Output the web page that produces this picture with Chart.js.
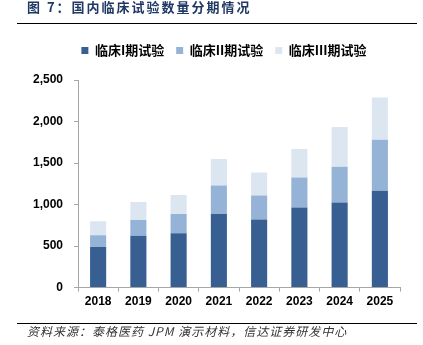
<!DOCTYPE html>
<html><head><meta charset="utf-8">
<script src="https://cdn.jsdelivr.net/npm/chart.js@4"></script>
<style>
html,body{margin:0;padding:0;background:#fff;}
#wrap{position:relative;width:423px;height:345px;overflow:hidden;}
#c{position:absolute;left:0;top:0;}
.title{position:absolute;left:27px;top:-3px;font:bold 13px "Noto Sans CJK SC",sans-serif;color:#1F3864;letter-spacing:2px;white-space:nowrap;}
.rule{position:absolute;left:17px;width:400px;height:1.5px;background:#000;}
.src{position:absolute;left:27px;top:322px;font:italic 12px "Noto Sans CJK SC",sans-serif;color:#333;letter-spacing:1px;white-space:nowrap;}
</style></head>
<body><div id="wrap">
<canvas id="c" width="423" height="345"></canvas>
<div class="title">图 7：国内临床试验数量分期情况</div>
<div class="rule" style="top:22.5px"></div>
<div class="rule" style="top:322.5px"></div>
<div class="src">资料来源：泰格医药 JPM 演示材料，信达证券研发中心</div>
</div>
<script>
const categories = ["2018","2019","2020","2021","2022","2023","2024","2025"];
const phase1 = [490, 625, 655, 885, 820, 965, 1025, 1165];
const phase2 = [140, 190, 230, 345, 290, 360, 430, 615];
const phase3 = [170, 215, 230, 320, 275, 345, 480, 510];
const seriesNames = ["临床I期试验", "临床II期试验", "临床III期试验"];
const yTicks = [0, 500, 1000, 1500, 2000, 2500];

const colors = ["#385F92", "#95B3D7", "#DCE6F1"];
const fontFamily = 'Arial, "Liberation Sans", "Noto Sans CJK SC", sans-serif';

const legendGap = {
  id: 'legendGap',
  afterInit(chart) {
    const lg = chart.legend;
    if (!lg) return;
    const orig = lg.fit;
    lg.fit = function () { orig.call(this); this.height += 13; };
  },
  afterLayout(chart) {
    const lg = chart.legend;
    if (!lg) return;
    lg.left += 24;
    lg.right += 24;
  }
};

new Chart(document.getElementById('c'), {
  type: 'bar',
  data: {
    labels: categories,
    datasets: [phase1, phase2, phase3].map((d, i) => ({
      label: seriesNames[i],
      data: d,
      backgroundColor: colors[i],
      borderWidth: 0,
      barPercentage: 0.4,
      categoryPercentage: 1.0
    }))
  },
  plugins: [legendGap],
  options: {
    responsive: false,
    animation: false,
    devicePixelRatio: 1,
    layout: { padding: { left: 0, right: 23, top: 32, bottom: 33 } },
    plugins: {
      legend: {
        position: 'top',
        labels: {
          boxWidth: 7, boxHeight: 7, padding: 12,
          color: '#000',
          font: { family: '"Noto Sans CJK SC", sans-serif', size: 13, weight: 'bold' }
        }
      },
      tooltip: { enabled: false }
    },
    scales: {
      x: {
        stacked: true,
        grid: { display: true, offset: true, drawOnChartArea: false, drawTicks: true, tickLength: 4, color: '#A6A6A6' },
        border: { color: '#A6A6A6' },
        ticks: { color: '#000', padding: 3, font: { family: fontFamily, size: 12, weight: 'bold' } }
      },
      y: {
        stacked: true,
        min: 0, max: 2500,
        afterBuildTicks: (axis) => { axis.ticks = yTicks.map(v => ({ value: v })); },
        afterFit: (axis) => { axis.width = 78; },
        grid: { display: true, drawOnChartArea: false, drawTicks: true, tickLength: 4, color: '#A6A6A6' },
        border: { color: '#A6A6A6' },
        ticks: {
          color: '#000', padding: 11,
          font: { family: fontFamily, size: 12, weight: 'bold' },
          callback: (v) => v.toLocaleString('en-US')
        }
      }
    }
  }
});
</script>
</body></html>
